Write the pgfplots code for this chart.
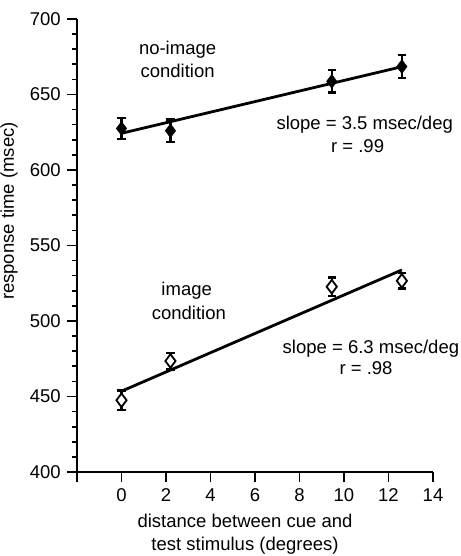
\documentclass[border=0pt]{standalone}
\usepackage{fontspec}
\setmainfont{Liberation Sans}
\usepackage{pgfplots}
\pgfplotsset{compat=1.18}
\begin{document}
\fontsize{18.5}{23}\selectfont
\begin{tikzpicture}
\useasboundingbox (-77pt,-84pt) rectangle (383pt,472pt);
\begin{axis}[
  scale only axis,
  width=356pt, height=453pt,
  xmin=-2, xmax=14, ymin=400, ymax=700,
  axis x line*=bottom, axis y line*=left,
  axis line style={-, line width=1.8pt},
  xtick={-2,0,2,4,6,8,10,12,14},
  xticklabels={,0,2,4,6,8,10,12,14},
  ytick={400,450,500,550,600,650,700},
  minor ytick={410,420,430,440,460,470,480,490,510,520,530,540,560,570,580,590,610,620,630,640,660,670,680,690},
  tick align=outside,
  major tick length=10pt, minor tick length=5pt,
  every tick/.style={black, line width=1.8pt},
  minor tick style={line width=1.6pt},
  /pgf/number format/assume math mode=true,
  /pgf/number format/1000 sep={},
  xlabel={distance between cue and\\test stimulus (degrees)},
  xlabel style={align=center, at={(axis description cs:0.472,-0.138)}, anchor=center},
  ylabel={response time (msec)},
  ylabel style={at={(axis description cs:-0.191,0.576)}, anchor=center},
  clip=false,
]
% fit lines
\addplot[black, line width=2.8pt] coordinates {(0,624.3) (12.6,668.4)};
\addplot[black, line width=2.8pt] coordinates {(0,453.5) (12.6,533.8)};
% error bars no-image
\addplot[only marks, mark=none, error bars/.cd, y dir=both, y explicit,
  error bar style={black, line width=2.4pt},
  error mark options={rotate=90, mark size=4.2pt, line width=2.4pt, black}]
  coordinates {(0,627.5) +- (0,7) (2.2,626) +- (0,7.5) (9.45,658.7) +- (0,7.5) (12.6,668.5) +- (0,7.5)};
\addplot[only marks, mark=diamond*, mark size=7pt, black, fill=black]
  coordinates {(0,627.5) (2.2,626) (9.45,658.7) (12.6,668.5)};
% error bars image
\addplot[only marks, mark=none, error bars/.cd, y dir=both, y explicit,
  error bar style={black, line width=2.4pt},
  error mark options={rotate=90, mark size=4.2pt, line width=2.4pt, black}]
  coordinates {(0,447.5) +- (0,6.5) (2.2,473.5) +- (0,5.5) (9.45,522.7) +- (0,6) (12.6,526.6) +- (0,5)};
\addplot[only marks, mark=diamond*, mark size=6.8pt, draw=black, fill=white, mark options={line width=1.8pt}]
  coordinates {(0,447.5) (2.2,473.5) (9.45,522.7) (12.6,526.6)};
% texts
\node[anchor=base] at (axis cs:2.52,676.6) {no-image};
\node[anchor=base] at (axis cs:2.52,661.1) {condition};
\node[anchor=base] at (axis cs:10.93,626.5) {slope = 3.5 msec/deg};
\node[anchor=base] at (axis cs:10.61,611.5) {r = .99};
\node[anchor=base] at (axis cs:2.93,516.8) {image};
\node[anchor=base] at (axis cs:3.03,501.3) {condition};
\node[anchor=base] at (axis cs:11.21,478.6) {slope = 6.3 msec/deg};
\node[anchor=base] at (axis cs:10.99,464.9) {r = .98};
\end{axis}
\end{tikzpicture}
\end{document}
